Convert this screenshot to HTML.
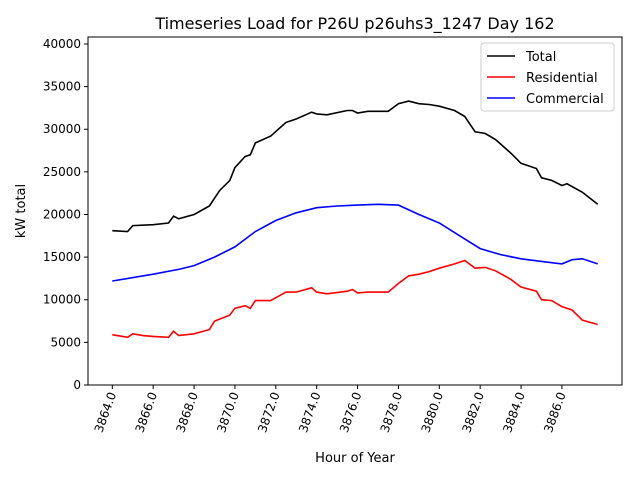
<!DOCTYPE html>
<html><head><meta charset="utf-8"><style>
body{margin:0;background:#fff;font-family:"Liberation Sans","DejaVu Sans",sans-serif}
svg text{font-family:"DejaVu Sans","Liberation Sans",sans-serif}
</style></head><body>
<svg width="640" height="480" viewBox="0 0 640 480" id="c"></svg>
<script>
const resHours=[3864,3864.75,3865,3865.5,3866,3866.75,3867,3867.25,3868,3868.75,3869,3869.75,3870,3870.5,3870.75,3871,3871.75,3872.5,3873,3873.75,3874,3874.5,3875.5,3875.75,3876,3876.5,3877.5,3878,3878.5,3879,3879.5,3880,3880.75,3881.25,3881.75,3882.25,3882.75,3883.5,3884,3884.75,3885,3885.5,3886,3886.5,3887,3887.75];
const residential=[5900,5600,6000,5800,5700,5600,6300,5800,6000,6500,7500,8200,9000,9300,9000,9900,9900,10900,10900,11400,10900,10700,11000,11200,10800,10900,10900,11900,12800,13000,13300,13700,14200,14600,13700,13800,13400,12400,11500,11000,10000,9900,9200,8800,7600,7100];
const totHours=[3864,3864.75,3865,3866,3866.75,3867,3867.25,3868,3868.75,3869.25,3869.75,3870,3870.5,3870.75,3871,3871.75,3872.5,3873,3873.75,3874,3874.5,3875.5,3875.75,3876,3876.5,3877.5,3878,3878.5,3879,3879.5,3880,3880.75,3881.25,3881.75,3882.25,3882.75,3883.5,3884,3884.75,3885,3885.5,3886,3886.25,3887,3887.75];
const total=[18100,18000,18700,18800,19000,19800,19500,20000,21000,22800,24000,25500,26800,27000,28400,29200,30800,31200,32000,31800,31700,32200,32200,31900,32100,32100,33000,33300,33000,32900,32700,32200,31500,29700,29500,28800,27200,26000,25400,24300,24000,23400,23600,22600,21200];
const comHours=[3864,3866,3867.3,3868,3869,3870,3871,3872,3873,3874,3875,3876,3877,3878,3879,3880,3881,3882,3883,3884,3885,3886,3886.5,3887,3887.75];
const commercial=[12200,13000,13600,14000,15000,16200,18000,19300,20200,20800,21000,21100,21200,21100,20000,19000,17500,16000,15300,14800,14500,14200,14700,14800,14200];
const xTicks=[3864,3866,3868,3870,3872,3874,3876,3878,3880,3882,3884,3886];
const yTicks=[0,5000,10000,15000,20000,25000,30000,35000,40000];
const L=88,R=622,T=37,B=385,X0=3862.81,X1=3888.94,Y0=0,Y1=40820;
const sx=v=>L+(v-X0)/(X1-X0)*(R-L), sy=v=>B-(v-Y0)/(Y1-Y0)*(B-T);
const svg=document.getElementById('c'),NS='http://www.w3.org/2000/svg';
function mk(t,a,p){const e=document.createElementNS(NS,t);for(const k in a)e.setAttribute(k,a[k]);(p||svg).appendChild(e);return e;}
function line(xs,ys,col,name){const d=xs.map((x,i)=>(i?'L':'M')+sx(x).toFixed(1)+' '+sy(ys[i]).toFixed(1)).join('');
const p=mk('path',{d:d,fill:'none',stroke:col,'stroke-width':1.6});

}
line(totHours,total,'#000','total-line');
line(resHours,residential,'#f00','residential-line');
line(comHours,commercial,'#00f','commercial-line');
const fr=mk('rect',{x:L,y:T,width:R-L,height:B-T,fill:'none',stroke:'#000','stroke-width':1});


xTicks.forEach(v=>{const x=sx(v);mk('line',{x1:x,x2:x,y1:B,y2:B+4,stroke:'#000'});
const t=mk('text',{x:0,y:0,'font-size':12,'text-anchor':'end',transform:`translate(${x+4},${B+9}) rotate(-70)`});t.textContent=v.toFixed(1);

});
yTicks.forEach(v=>{const y=sy(v);mk('line',{x1:L-4,x2:L,y1:y,y2:y,stroke:'#000'});
const t=mk('text',{x:L-7,y:y+4,'font-size':12,'text-anchor':'end'});t.textContent=v;

});
</script>
<svg width="640" height="480" style="position:absolute;left:0;top:0">
<text x="355" y="29" font-size="16" text-anchor="middle">Timeseries Load for P26U p26uhs3_1247  Day 162</text>
<text x="355" y="462" font-size="13" text-anchor="middle">Hour of Year</text>
<text x="0" y="0" font-size="13" text-anchor="middle" transform="translate(25,211) rotate(-90)">kW total</text>
<g>
<rect x="481" y="43" width="133" height="68" rx="3" fill="#fff" fill-opacity="0.8" stroke="#ccc"/>
<line x1="487" x2="515" y1="56" y2="56" stroke="#000" stroke-width="1.6"/><text x="526" y="61" font-size="13">Total</text>
<line x1="487" x2="515" y1="77" y2="77" stroke="#f00" stroke-width="1.6"/><text x="526" y="82" font-size="13">Residential</text>
<line x1="487" x2="515" y1="98" y2="98" stroke="#00f" stroke-width="1.6"/><text x="526" y="103" font-size="13">Commercial</text>
</g>
</svg>
</body></html>
